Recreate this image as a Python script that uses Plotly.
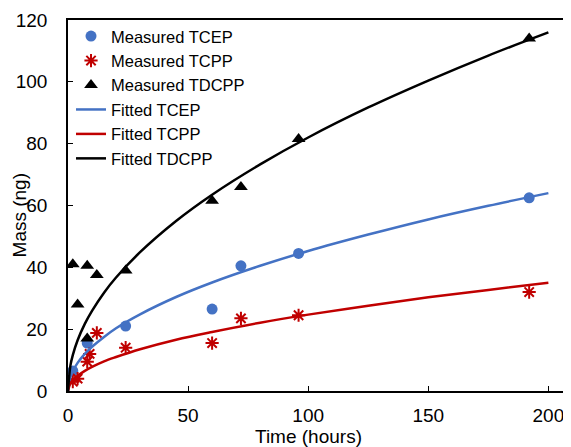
import plotly.graph_objects as go

tcep_t = [2, 8, 24, 60, 72, 96, 192]
tcep_m = [6.5, 15.5, 21, 26.5, 40.5, 44.5, 62.5]

tcpp_t = [2, 4, 8, 9, 12, 24, 60, 72, 96, 192]
tcpp_m = [3, 4, 9.5, 12, 18.8, 14, 15.5, 23.5, 24.5, 32]

tdcpp_t = [2, 4, 8, 8, 12, 24, 60, 72, 96, 192]
tdcpp_m = [41, 28, 40.5, 17, 37.5, 39, 61.5, 66, 81.5, 114]

# Fitted curves
fit_t = [0, 1, 2, 4, 7, 10, 15, 20, 30, 45, 60, 80, 100, 125, 150, 175, 200]
fit_tcep = [0, 4.5, 6.4, 9.1, 12, 14.3, 17.5, 20.3, 24.8, 30.4, 35.1, 40.5, 45.3, 50.6, 55.5, 59.9, 64]
fit_tcpp = [0, 2.5, 3.5, 4.9, 6.5, 7.8, 9.6, 11, 13.5, 16.6, 19.1, 22.1, 24.7, 27.6, 30.3, 32.7, 35]
fit_tdcpp = [0, 8.2, 11.6, 16.4, 21.7, 25.9, 31.8, 36.7, 44.9, 55, 63.5, 73.3, 82, 91.7, 100.4, 108.5, 116]

x_ticks = [0, 50, 100, 150, 200]
y_ticks = [0, 20, 40, 60, 80, 100, 120]

BLUE = "#4472C4"
RED = "#C00000"
BLACK = "#000000"

fig = go.Figure()
fig.add_trace(go.Scatter(x=tcep_t, y=tcep_m, mode="markers", name="Measured TCEP",
                         marker=dict(symbol="circle", size=11, color=BLUE), cliponaxis=False))
fig.add_trace(go.Scatter(x=tcpp_t, y=tcpp_m, mode="markers", name="Measured TCPP",
                         marker=dict(symbol="asterisk-open", size=11, color=RED,
                                     line=dict(color=RED, width=2)), cliponaxis=False))
fig.add_trace(go.Scatter(x=tdcpp_t, y=tdcpp_m, mode="markers", name="Measured TDCPP",
                         marker=dict(symbol="triangle-up", size=12, color=BLACK), cliponaxis=False))
fig.add_trace(go.Scatter(x=fit_t, y=fit_tcep, mode="lines", name="Fitted TCEP",
                         line=dict(color=BLUE, width=2.5, shape="spline")))
fig.add_trace(go.Scatter(x=fit_t, y=fit_tcpp, mode="lines", name="Fitted TCPP",
                         line=dict(color=RED, width=2.5, shape="spline")))
fig.add_trace(go.Scatter(x=fit_t, y=fit_tdcpp, mode="lines", name="Fitted TDCPP",
                         line=dict(color=BLACK, width=2.5, shape="spline")))

fig.add_annotation(text="Mass (ng)", xref="paper", yref="paper", x=-0.097, y=0.474,
                   xanchor="center", yanchor="middle", textangle=-90, showarrow=False,
                   font=dict(size=19))
fig.add_annotation(text="Time (hours)", xref="x", yref="paper", x=100, y=-0.122,
                   xanchor="center", yanchor="middle", showarrow=False,
                   font=dict(size=19))

fig.update_layout(
    width=563, height=439,
    margin=dict(l=60, r=1, t=12, b=56),
    paper_bgcolor="white", plot_bgcolor="white",
    font=dict(family="Liberation Sans, Arial, sans-serif", size=19, color="black"),
    showlegend=True,
    legend=dict(x=0.006, y=1.003, xanchor="left", yanchor="top",
                font=dict(size=16.5), bgcolor="rgba(0,0,0,0)",
                itemwidth=30, tracegroupgap=0),
    xaxis=dict(range=[0, 209], tickvals=x_ticks, showgrid=False, zeroline=False,
               showline=True, linecolor="black", linewidth=1.5, mirror=True,
               ticks="inside", ticklen=5, tickcolor="black", automargin=False,
               ticklabelstandoff=6, tickfont=dict(size=19)),
    yaxis=dict(range=[0, 120], tickvals=y_ticks, showgrid=False, zeroline=False,
               showline=True, linecolor="black", linewidth=1.5, mirror=True,
               ticks="inside", ticklen=5, tickcolor="black", automargin=False,
               ticklabelstandoff=15, tickfont=dict(size=19)),
)

fig.write_html("out.html")
